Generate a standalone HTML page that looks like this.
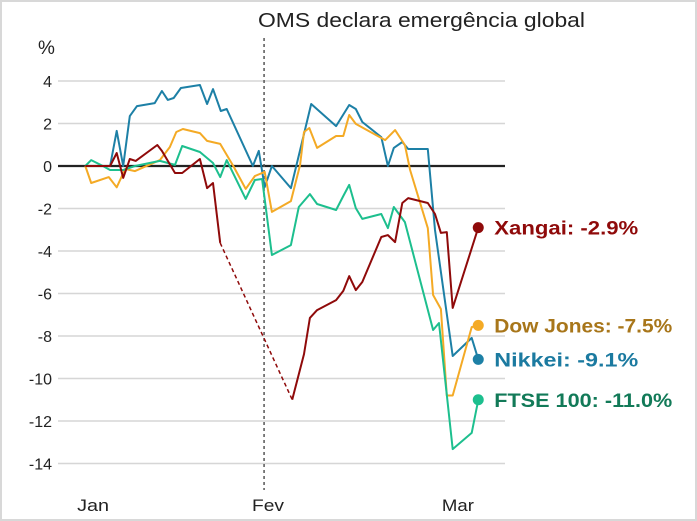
<!DOCTYPE html>
<html><head><meta charset="utf-8"><style>
html,body{margin:0;padding:0;background:#fff;}
#wrap{position:relative;width:697px;height:521px;box-sizing:border-box;border:2px solid #d8d8d8;overflow:hidden}
svg{position:absolute;left:-2px;top:-2px;font-family:"Liberation Sans",sans-serif}
</style></head><body>
<div id="wrap">
<svg id="chart" width="697" height="521"></svg>
</div>
<script>
const yTicks=[4,2,0,-2,-4,-6,-8,-10,-12,-14];
const xTickLabels=["Jan","Fev","Mar"];
const xTickDays=[5.3,32,61];
const eventDay=31.4;
const nikkeiDays=[4.1,7.9,8.9,9.9,10.9,12.0,14.7,15.8,16.7,17.6,18.7,21.6,22.7,23.6,24.8,25.7,29.7,30.6,31.5,32.6,35.5,36.9,38.6,42.4,44.4,45.4,46.4,49.3,50.3,51.2,52.5,53.4,56.4,57.5,60.2,63.1,64.1];
const nikkeiVals=[0,0,1.65,0,2.35,2.82,2.96,3.53,3.11,3.2,3.67,3.81,2.92,3.62,2.59,2.68,0,0.71,-0.99,0,-1.04,0.75,2.92,1.88,2.87,2.68,2.07,1.36,0,0.85,1.13,0.8,0.8,-3.01,-8.94,-8.09,-9.1];
const dowDays=[4.1,5.0,7.7,8.9,10.2,11.7,15.5,17.0,18.0,19.0,21.6,22.7,24.7,26.7,28.6,30.0,31.5,32.6,35.5,36.9,37.5,38.3,39.5,42.4,43.5,44.4,45.4,49.9,51.4,52.9,53.7,56.4,57.2,58.4,59.3,60.2,63.1,64.1];
const dowVals=[0,-0.8,-0.52,-1.0,-0.14,-0.24,0.28,0.89,1.6,1.74,1.55,1.18,1.04,0,-1.08,-0.47,-0.28,-2.16,-1.65,0.05,1.6,1.79,0.85,1.41,1.41,2.4,1.98,1.22,1.69,0.99,-0.19,-2.92,-6.07,-6.73,-10.8,-10.8,-7.58,-7.5];
const ftseDays=[4.1,5.0,6.8,7.9,9.9,11.7,15.5,17.8,18.9,21.6,23.6,24.7,25.7,28.6,30.0,31.1,32.6,35.5,36.7,38.4,39.5,42.4,43.5,44.4,45.4,46.4,49.3,50.3,51.2,52.9,57.2,58.1,60.2,63.1,64.1];
const ftseVals=[0,0.28,0,-0.19,-0.19,0,0.24,0.05,0.94,0.66,0.14,-0.52,0.28,-1.55,-0.66,-0.61,-4.19,-3.72,-1.93,-1.32,-1.79,-2.07,-1.41,-0.89,-1.98,-2.49,-2.26,-2.92,-1.93,-2.64,-7.72,-7.39,-13.32,-12.56,-11.0];
const xangaiDays=[4.1,7.9,8.9,9.9,10.9,11.8,15.1,15.8,17.8,18.9,21.6,22.7,23.6,24.7,30,35.7,37.5,38.4,39.5,42.4,43.5,44.4,45.4,46.4,49.3,50.3,51.4,52.5,53.4,56.4,57.5,58.4,59.3,60.2,64.1];
const xangaiVals=[0,0,0.61,-0.56,0.33,0.24,0.99,0.71,-0.33,-0.33,0.33,-1.04,-0.8,-3.62,null,-11.0,-8.85,-7.15,-6.78,-6.31,-5.88,-5.18,-5.84,-5.46,-3.34,-3.25,-3.58,-1.74,-1.51,-1.74,-2.26,-3.15,-3.11,-6.68,-2.9];
const seriesNames=["Xangai","Dow Jones","Nikkei","FTSE 100"];

const NS="http://www.w3.org/2000/svg";
const svg=document.getElementById('chart');
const x=d=>268+(d-32)*6.55;
const y=v=>166-v*21.25;
function mk(tag,attrs,parent){const e=document.createElementNS(NS,tag);for(const k in attrs)e.setAttribute(k,attrs[k]);(parent||svg).appendChild(e);return e;}

let t=mk('text',{x:258,y:27,'font-size':20,fill:'#222',textLength:327,lengthAdjust:'spacingAndGlyphs'});t.textContent="OMS declara emergência global";


t=mk('text',{x:38,y:54,'font-size':19,fill:'#222'});t.textContent="%";



yTicks.forEach(v=>{
  const g=mk('line',{x1:58,x2:505,y1:y(v),y2:y(v),stroke:v===0?'#222':'#d6d6d6','stroke-width':v===0?2.2:1.5});
  
  
  const l=mk('text',{x:52,y:y(v)+6,'font-size':16,'text-anchor':'end',fill:'#222'});
  l.textContent=String(v);
  
  
});
xTickLabels.forEach((s,i)=>{
  const l=mk('text',{x:x(xTickDays[i]),y:511,'font-size':17,'text-anchor':'middle',fill:'#222',textLength:32,lengthAdjust:'spacingAndGlyphs'});
  l.textContent=s;
  
  
});
const ev=mk('line',{x1:x(eventDay),x2:x(eventDay),y1:38,y2:490,stroke:'#555','stroke-width':1.5,'stroke-dasharray':'3,3'});



function drawSeries(days,vals,color,name,label,labelColor){
  let segs=[[]];let gaps=[];
  vals.forEach((v,i)=>{
    if(v===null){gaps.push([i-1,i+1]);segs.push([]);}
    else segs[segs.length-1].push(x(days[i]).toFixed(1)+','+y(v).toFixed(1));
  });
  gaps.forEach(g=>{
    const d=mk('line',{x1:x(days[g[0]]),y1:y(vals[g[0]]),x2:x(days[g[1]]),y2:y(vals[g[1]]),stroke:color,'stroke-width':1.5,'stroke-dasharray':'4,3'});
    
    
  });
  segs.forEach(s=>{
    const p=mk('polyline',{points:s.join(' '),fill:'none',stroke:color,'stroke-width':2,'stroke-linejoin':'round'});
    
    
  });
  const n=days.length-1;
  const c=mk('circle',{cx:x(days[n]),cy:y(vals[n]),r:5.5,fill:color});
  
  
  const txt=label+': '+vals[n].toFixed(1)+'%';
  const l=mk('text',{x:x(days[n])+16,y:y(vals[n])+7,'font-size':19,'font-weight':'bold',fill:labelColor,textLength:Math.round(txt.length*11.1),lengthAdjust:'spacingAndGlyphs'});
  l.textContent=txt;
  
  
}
drawSeries(nikkeiDays,nikkeiVals,'#1d80a6','nikkei',seriesNames[2],'#1b7aa0');
drawSeries(dowDays,dowVals,'#f4aa25','dow-jones',seriesNames[1],'#a8761a');
drawSeries(ftseDays,ftseVals,'#1dbf8e','ftse',seriesNames[3],'#127a58');
drawSeries(xangaiDays,xangaiVals,'#8f0a0a','xangai',seriesNames[0],'#8f0a0a');
</script>
</body></html>
